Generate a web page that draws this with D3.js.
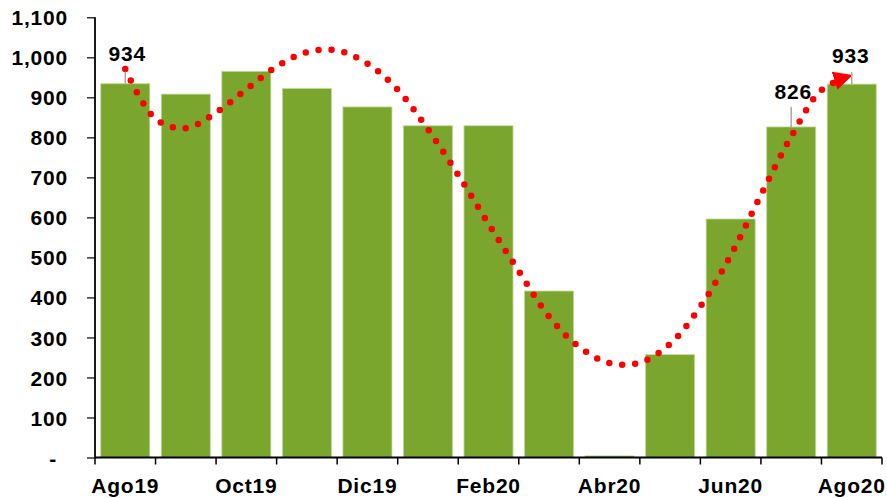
<!DOCTYPE html>
<html>
<head>
<meta charset="utf-8">
<script src="https://cdn.jsdelivr.net/npm/d3@7"></script>
<style>
  html, body { margin: 0; padding: 0; background: #ffffff; }
  svg { display: block; }
  text { font-family: "Liberation Sans", Arial, sans-serif; font-weight: bold; fill: #000; }
</style>
</head>
<body>
<svg id="chart" width="887" height="498"></svg>
<script>
// ---- data ----
const months = ["Ago19","Sep19","Oct19","Nov19","Dic19","Ene20","Feb20","Mar20","Abr20","May20","Jun20","Jul20","Ago20"];
const barValues = [934, 908, 965, 922, 876, 829, 829, 416, 4, 257, 596, 826, 933];
const shownMonthLabels = ["Ago19","Oct19","Dic19","Feb20","Abr20","Jun20","Ago20"];
const yTickValues = [0, 100, 200, 300, 400, 500, 600, 700, 800, 900, 1000, 1100];
const yTickLabels = ["-", "100", "200", "300", "400", "500", "600", "700", "800", "900", "1,000", "1,100"];
// trend line read at half-month steps (0, 0.5, 1, ... 12)
const trendSteps = [0,0.5,1,1.5,2,2.5,3,3.5,4,4.5,5,5.5,6,6.5,7,7.5,8,8.5,9,9.5,10,10.5,11,11.5,12];
const trendValues = [971,846,823,862,920,977,1013,1017,984,919,820,706,584,466,352,276,236,237,284,377,505,656,802,918,955];
const labeledMonths = ["Ago19","Jul20","Ago20"];
const labeledTexts = ["934","826","933"];

// ---- layout ----
const svg = d3.select("#chart");
const plotLeft = 95, plotRight = 882, plotTop = 17.3, plotBottom = 457.5;

const x = d3.scaleBand().domain(months).range([plotLeft, plotRight]).paddingInner(0.19).paddingOuter(0.095);
const y = d3.scaleLinear().domain([0, 1100]).range([plotBottom, plotTop]);
const xi = d3.scaleLinear().domain([0, months.length - 1])
  .range([x(months[0]) + x.bandwidth() / 2, x(months[months.length - 1]) + x.bandwidth() / 2]);

// bars
svg.append("g").selectAll("rect").data(months).join("rect")
  .attr("x", d => x(d))
  .attr("width", x.bandwidth())
  .attr("y", (d, i) => y(barValues[i]))
  .attr("height", (d, i) => plotBottom - y(barValues[i]))
  .attr("fill", "#7ba62e")
  .attr("stroke", "#c3d89c")
  .attr("stroke-width", 0.8);

// y axis
const yAxis = d3.axisLeft(y).tickValues(yTickValues).tickSize(8).tickFormat((d, i) => yTickLabels[i]);
const gy = svg.append("g").attr("transform", `translate(${plotLeft},0)`).call(yAxis);
gy.select(".domain").attr("stroke", "#000").attr("stroke-width", 1.8).attr("d", `M0,${plotTop}V${plotBottom}`);
gy.selectAll(".tick line").attr("stroke", "#000").attr("stroke-width", 1.2);
gy.selectAll(".tick text")
  .attr("x", d => d === 0 ? -38 : -27)
  .attr("dy", "0.36em")
  .style("font-size", "21px")
  .style("letter-spacing", "0.8px")
  .style("font-family", "'Liberation Sans', Arial, sans-serif")
  .style("font-weight", "bold")
  .attr("fill", "#000");

// x axis line + band-boundary ticks
const gx = svg.append("g");
gx.append("line").attr("x1", plotLeft).attr("x2", plotRight).attr("y1", plotBottom).attr("y2", plotBottom)
  .attr("stroke", "#000").attr("stroke-width", 2.2);
gx.selectAll("line.t").data(d3.range(months.length + 1)).join("line").attr("class", "t")
  .attr("x1", i => plotLeft + i * x.step()).attr("x2", i => plotLeft + i * x.step())
  .attr("y1", plotBottom).attr("y2", plotBottom + 7)
  .attr("stroke", "#000").attr("stroke-width", 1.5);
gx.selectAll("text").data(shownMonthLabels).join("text")
  .attr("x", d => x(d) + x.bandwidth() / 2)
  .attr("y", 492.5)
  .attr("text-anchor", "middle")
  .style("font-size", "21px")
  .style("letter-spacing", "0.8px")
  .text(d => d);

// trend dotted line with arrow
const defs = svg.append("defs");
defs.append("marker").attr("id", "arrow")
  .attr("markerUnits", "userSpaceOnUse")
  .attr("viewBox", "0 -10 20 20")
  .attr("refX", 18).attr("refY", 0)
  .attr("markerWidth", 20).attr("markerHeight", 20)
  .attr("orient", "auto")
  .append("path").attr("d", "M0,-9.5L19,0L0,9.5Z").attr("fill", "#ff0000");

const line = d3.line()
  .x((d, i) => xi(trendSteps[i]))
  .y(d => y(d))
  .curve(d3.curveCatmullRom.alpha(0.5));
svg.append("path").datum(trendValues)
  .attr("d", line)
  .attr("fill", "none")
  .attr("stroke", "#ff0000")
  .attr("stroke-width", 6.5)
  .attr("stroke-linecap", "round")
  .attr("stroke-dasharray", "0 13")
  .attr("marker-end", "url(#arrow)");

// data labels with leader lines
const leaderLen = { "Ago19": 12, "Jul20": 20, "Ago20": 12 };
const labelGap = { "Ago19": 11, "Jul20": 8, "Ago20": 9 };
const labelDx = { "Ago19": 2, "Jul20": 2, "Ago20": -1 };
const gl = svg.append("g");
labeledMonths.forEach((m, k) => {
  const i = months.indexOf(m);
  const cx = x(m) + x.bandwidth() / 2;
  const yt = y(barValues[i]);
  gl.append("line").attr("x1", cx).attr("x2", cx).attr("y1", yt).attr("y2", yt - leaderLen[m])
    .attr("stroke", "#a6a6a6").attr("stroke-width", 1.5);
  gl.append("text").attr("x", cx + labelDx[m]).attr("y", yt - leaderLen[m] - labelGap[m])
    .attr("text-anchor", "middle")
    .style("font-size", "21px").style("letter-spacing", "0.8px")
    .text(labeledTexts[k]);
});
</script>
</body>
</html>
